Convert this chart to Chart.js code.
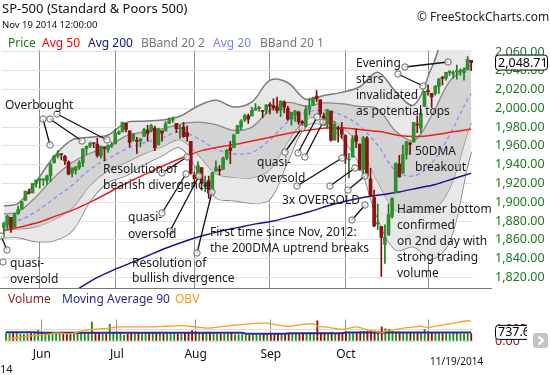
<!DOCTYPE html>
<html>
<head>
<meta charset="utf-8">
<script src="https://cdn.jsdelivr.net/npm/chart.js@4.4.0/dist/chart.umd.min.js"></script>
<style>
  body { margin: 0; background: #fff; font-family: 'Noto Sans', sans-serif; }
  #wrap { position: relative; width: 550px; height: 375px; overflow: hidden; }
  .t { position: absolute; white-space: nowrap; line-height: 1; }
  canvas { position: absolute; left: 0; }
</style>
</head>
<body>
<div id="wrap">
  <canvas id="price" width="550" height="289" style="top:0"></canvas>
  <canvas id="volume" width="550" height="85" style="top:290px"></canvas>

  <div class="t" style="left:2px;top:2px;font-size:13px;color:#111">SP-500 (Standard &amp; Poors 500)</div>
  <div class="t" style="left:2px;top:20px;font-size:9.5px;color:#111">Nov 19 2014 12:00:00</div>
  <div class="t" style="left:417px;top:11px;font-size:12px;color:#222">© FreeStockCharts.com</div>

  <div class="t" style="left:8px;top:37px;font-size:12px;color:#1a7a1a">Price</div>
  <div class="t" style="left:42px;top:37px;font-size:12px;color:#ff0000">Avg 50</div>
  <div class="t" style="left:88px;top:37px;font-size:12px;color:#10108a">Avg 200</div>
  <div class="t" style="left:141px;top:37px;font-size:12px;color:#777">BBand 20 2</div>
  <div class="t" style="left:213px;top:37px;font-size:12px;color:#8080ff">Avg 20</div>
  <div class="t" style="left:260px;top:37px;font-size:12px;color:#777">BBand 20 1</div>

  <div class="t" style="left:8px;top:293px;font-size:12px;color:#8b1a1a">Volume</div>
  <div class="t" style="left:62px;top:293px;font-size:12px;color:#2a2a8c">Moving Average 90</div>
  <div class="t" style="left:175px;top:293px;font-size:12px;color:#ff9a1a">OBV</div>

  <div class="t" style="left:0px;top:363px;font-size:11px;color:#111">14</div>
  <div class="t" style="left:430px;top:356px;font-size:10px;color:#111">11/19/2014</div>
</div>

<script>
// trading days, May 16 - Nov 19 2014
const dates = [
  '5/16','5/19','5/20','5/21','5/22','5/23','5/27','5/28','5/29','5/30',
  '6/2','6/3','6/4','6/5','6/6','6/9','6/10','6/11','6/12','6/13','6/16','6/17','6/18','6/19','6/20','6/23','6/24','6/25','6/26','6/27','6/30',
  '7/1','7/2','7/3','7/7','7/8','7/9','7/10','7/11','7/14','7/15','7/16','7/17','7/18','7/21','7/22','7/23','7/24','7/25','7/28','7/29','7/30','7/31',
  '8/1','8/4','8/5','8/6','8/7','8/8','8/11','8/12','8/13','8/14','8/15','8/18','8/19','8/20','8/21','8/22','8/25','8/26','8/27','8/28','8/29',
  '9/2','9/3','9/4','9/5','9/8','9/9','9/10','9/11','9/12','9/15','9/16','9/17','9/18','9/19','9/22','9/23','9/24','9/25','9/26','9/29','9/30',
  '10/1','10/2','10/3','10/6','10/7','10/8','10/9','10/10','10/13','10/14','10/15','10/16','10/17','10/20','10/21','10/22','10/23','10/24','10/27','10/28','10/29','10/30','10/31',
  '11/3','11/4','11/5','11/6','11/7','11/10','11/11','11/12','11/13','11/14','11/17','11/18','11/19'
];
const monthStarts = ['6/2', '7/1', '8/1', '9/2', '10/1', '11/3'];
const monthNames = ['Jun', 'Jul', 'Aug', 'Sep', 'Oct', ''];

const opens = [
  1873,1876,1884,1874,1888,1893,1902,1911,1910,1920,
  1923,1924,1923,1928,1942,1949,1951,1949,1943,1931,
  1934,1937,1942,1957,1960,1963,1962,1949,1959,1956,
  1960,1962,1973,1975,1984,1976,1966,1966,1965,1970,
  1977,1976,1979,1961,1976,1976,1984,1987.5,1984,1978.3,
  1980,1974,1965,1929,1926,1937,1917,1923,1910,1933,
  1935,1935,1947,1958,1958,1973,1980,1987,1992,1992,
  1998,2000,1998,1998,2004,2003,2001,1998,2007,2000,
  1989,1993,1996,1986,1981,1999,2003,2013,2009,1992,
  1983,1997,1966,1979,1978,1971,1945,1948,1971,1962,
  1935,1968,1925,1905,1877,1874,1855,1865,1885,1910,
  1941,1931,1951,1963,1964,1983,1979,2002,2019,2016,
  2016,2023,2032.4,2032,2038,2037,2039,2039,2038,2041,2051
];
const highs = [
  1878,1886,1884,1888,1896,1901,1912,1914,1920,1924,
  1926,1925,1929,1942,1950,1955,1951,1950,1944,1937,
  1938,1944,1957,1960,1964,1963,1968,1960,1959,1961,
  1964,1978,1976,1985,1984,1976,1973,1969,1968,1979,
  1982,1983,1981,1979,1976,1986,1990,1991,1984,1982,
  1985,1981,1965,1932,1943,1937,1928,1928,1932,1944,
  1939,1948,1956,1965,1972,1982,1988,1994,1994,2001,
  2005,2002,1998,2004,2006,2010,2012,2008,2008,2002,
  1996,1998,1997,1987,2002,2011,2012,2019,2009,1995,
  1999,1997,1986,1981,1985,1972,1952,1971,1978,1962,
  1970,1970,1936,1913,1898,1874,1876,1898,1905,1942,
  1950,1961,1965,1964,1985,1992,1999,2018,2025,2016,
  2024,2032,2034,2038,2040,2040,2046,2042,2043,2055,2051
];
const lows = [
  1863,1872,1868,1873,1887,1893,1902,1909,1910,1916,
  1915,1918,1919,1922,1942,1947,1945,1940,1929,1927,
  1930,1935,1938,1951,1958,1958,1948,1947,1944,1953,
  1958,1962,1972,1975,1975,1959,1965,1952,1959,1970,
  1965,1975,1955,1961,1965,1976,1984,1985,1974,1968,
  1969,1965,1930,1917,1924,1913,1911,1904,1909,1933,
  1929,1935,1945,1941,1958,1973,1977,1986,1984,1992,
  1998,1997,1990,1994,1994,1998,1995,1991,1995,1987,
  1982,1986,1983,1978,1980,1993,2003,2007,1991,1982,
  1979,1965,1966,1964,1968,1941,1926,1948,1958,1934,
  1925,1927,1906,1874,1871,1821,1835,1865,1883,1910,
  1927,1931,1946,1951,1964,1974,1974,2002,2014,2001,
  2014,2016,2025,2030,2035,2032,2031,2035,2030,2041,2040
];
const closes = [
  1877.86,1885.08,1872.83,1888.03,1892.49,1900.53,1911.91,1909.78,1920.03,1923.57,
  1924.97,1924.24,1927.88,1940.46,1949.44,1951.27,1950.79,1943.89,1930.11,1936.16,
  1937.78,1941.99,1956.98,1959.48,1962.87,1962.61,1949.98,1959.53,1957.22,1960.96,
  1960.23,1973.32,1974.62,1985.44,1977.65,1963.71,1972.83,1964.68,1967.57,1977.10,
  1973.28,1981.57,1958.12,1978.22,1973.63,1983.53,1987.01,1987.98,1978.34,1978.91,
  1969.95,1970.07,1930.67,1925.15,1938.99,1920.21,1920.24,1909.57,1931.59,1936.92,
  1933.75,1946.72,1955.18,1955.06,1971.74,1981.60,1986.51,1992.37,1988.40,1997.92,
  2000.02,2000.12,1996.74,2003.37,2002.28,2000.72,1997.65,2007.71,2001.54,1988.44,
  1995.69,1997.45,1985.54,1984.13,1998.98,2001.57,2011.36,2010.40,1994.29,1982.77,
  1998.30,1965.99,1982.85,1977.80,1972.29,1946.16,1946.17,1967.90,1964.82,1935.10,
  1968.89,1928.21,1906.13,1874.74,1877.70,1862.49,1862.76,1886.76,1904.01,1941.28,
  1927.11,1950.82,1964.58,1961.63,1985.05,1982.30,1994.65,2018.05,2017.81,2012.10,
  2023.57,2031.21,2031.92,2038.26,2039.68,2038.25,2039.33,2039.82,2041.32,2051.80,2048.71
];
// volume, millions
const volumes = [
  690,640,650,660,600,580,620,640,680,920,
  640,620,650,680,660,620,640,650,690,620,
  640,650,700,720,1630,640,700,620,600,1420,
  700,690,640,500,600,720,660,700,620,640,
  680,670,720,690,600,640,620,660,620,600,
  680,720,900,760,680,700,690,720,640,600,
  580,620,610,720,560,540,560,530,500,560,
  530,520,520,560,640,640,650,600,620,680,
  640,630,660,690,680,690,700,1740,700,720,
  680,760,650,680,720,770,760,700,720,800,
  820,860,920,880,860,1210,1050,1000,800,760,
  760,740,680,700,740,760,740,1000,680,700,
  720,700,640,640,620,660,700,620,600,640,640
];

// indicator lines (index into dates, value)
const ma50Idx = [0,5,10,15,20,25,30,35,40,45,50,55,60,65,70,75,80,85,90,95,100,105,110,115,120,125,130];
const ma50Val = [1870,1874,1879,1886,1893,1902,1912,1922,1931,1940,1948,1955,1959,1962,1966,1970,1974,1977,1979,1979,1977,1975,1971,1970,1972,1975,1978];
const ma200Idx = [20,25,30,35,40,45,50,55,60,65,70,75,80,85,90,95,100,105,110,115,120,125,130];
const ma200Val = [1806,1818,1827,1835,1843,1851,1858,1864,1869,1873,1877,1880,1885,1890,1896,1901,1905,1908,1911,1915,1919,1925,1931];

const bandIdx = [0,4,9,14,19,24,29,34,39,44,49,54,59,64,69,74,79,84,89,94,99,104,109,114,119,124,129,130];
const avg20 = [1879.1,1880.7,1890.1,1904.1,1918.1,1935.2,1946.4,1956.6,1963.3,1968.6,1974.9,1968.1,1956.7,1951.6,1953.1,1966.5,1985.4,1995.4,1998.0,1992.8,1981.0,1960.7,1933.5,1928.1,1941.4,1971.8,2009.5,2015.5];
const bbUpper2 = [1896.1,1898.9,1921.9,1948.9,1966.5,1969.2,1971.6,1984.8,1986.3,1987.6,1991.5,2002.5,2008.5,2001.4,2006.9,2029.7,2027.2,2009.6,2013.6,2017.0,2023.0,2038.5,2017.7,2003.5,2043.2,2085.6,2079.7,2077.3];
const bbUpper1 = [1887.6,1889.8,1906.0,1926.5,1942.3,1952.2,1959.0,1970.7,1974.8,1978.1,1983.2,1985.3,1982.6,1976.5,1980.0,1998.1,2006.3,2002.5,2005.8,2004.9,2002.0,1999.6,1975.6,1965.8,1992.3,2028.7,2044.6,2046.4];
const bbLower1 = [1870.6,1871.6,1874.2,1881.7,1893.9,1918.2,1933.8,1942.5,1951.8,1959.1,1966.6,1950.9,1930.8,1926.7,1926.2,1934.9,1964.5,1988.3,1990.2,1980.7,1960.0,1921.8,1891.4,1890.4,1890.5,1914.9,1974.4,1984.6];
const bbLower2 = [1862.1,1862.5,1858.3,1859.3,1869.7,1901.2,1921.2,1928.4,1940.3,1949.6,1958.3,1933.7,1904.9,1901.8,1899.3,1903.3,1943.6,1981.2,1982.4,1968.6,1939.0,1882.9,1849.3,1852.7,1839.6,1858.0,1939.3,1953.7];

const ma90Idx = [0,8,9,66,67,78,79,94,95,130];
const ma90Val = [752,752,700,700,620,620,665,665,737.6,737.6];
const obvIdx = [0,4,8,11,14,18,21,24,27,29,31,34,38,41,45,49,53,56,60,64,68,71,73,75,79,83,86,87,89,94,98,101,105,107,111,114,116,118,122,125,129,130];
const obvVal = [3,6,9,10,13,12,16,19,20,21,23,23,23,23,24,25,23,21,23,26,28,29,29,27,24,27,28,24,23,19,23,18,14,17,21,23,24,22,26,29,33,32];

const priceTickStep = 20;
const volTicks = [0, 1000];
const volTickLabels = ['0.00', '1.00B'];

const pts = (idx, vals) => idx.map((k, j) => ({ x: dates[k], y: vals[j] }));
const up = closes.map((c, i) => c >= opens[i]);
const GREEN = '#2f8f2f', RED = '#8b1212';
const FONT = "'Noto Sans', sans-serif";
const PANEL_BOTTOM = 288;

const monthGrid = ctx => {
  const i = ctx.tick ? ctx.tick.value : ctx.index;
  return monthStarts.includes(dates[i]) ? '#8c8c8c' : 'rgba(0,0,0,0)';
};

// notes drawn over the price panel
const noteLines = [
  [43,119,50,145], [50,119,82,141], [57,114,107,140],
  [162,173,187,157],
  [162,213,186,174], [170,231,199,176],
  [197,253,212,192],
  [7,250,1,236],
  [285,152,302,128], [298,153,317,117], [305,157,323,122],
  [297,186,342,158], [330,186,355,168], [348,190,365,176], [352,220,365,205],
  [405,67,448,62], [398,74,423,86]
];
const noteDots = [[3,262]];
const noteTexts = [
  ['Overbought', 5, 104],
  ['Resolution of', 103, 168], ['bearish divergence', 103, 184],
  ['quasi-', 128, 216], ['oversold', 128, 233],
  ['quasi-', 10, 262], ['oversold', 10, 278],
  ['Resolution of', 132, 262], ['bullish divergence', 132, 277],
  ['First time since Nov, 2012:', 210, 231], ['the 200DMA uptrend breaks', 210, 247],
  ['quasi-', 257, 161], ['oversold', 257, 177],
  ['3x OVERSOLD', 282, 199],
  ['Evening', 356, 62], ['stars', 356, 78], ['invalidated', 356, 94], ['as potential tops', 356, 110],
  ['50DMA', 415, 150], ['breakout', 415, 166],
  ['Hammer bottom', 397, 208], ['confirmed', 397, 224], ['on 2nd day with', 397, 240],
  ['strong trading', 397, 256], ['volume', 397, 272]
];

function dot(c, x, y) {
  c.beginPath();
  c.arc(x, y, 3.2, 0, Math.PI * 2);
  c.fillStyle = 'rgba(255,255,255,0.7)';
  c.fill();
  c.lineWidth = 1;
  c.strokeStyle = '#666';
  c.stroke();
}

const priceExtras = {
  id: 'priceExtras',
  afterDraw(chart) {
    const c = chart.ctx;
    c.save();
    c.strokeStyle = '#777';
    c.lineWidth = 1;
    c.beginPath(); c.moveTo(0, PANEL_BOTTOM + 0.5); c.lineTo(492, PANEL_BOTTOM + 0.5); c.stroke();

    c.strokeStyle = '#111';
    c.lineWidth = 1.3;
    noteLines.forEach(([x1, y1, x2, y2]) => {
      c.beginPath(); c.moveTo(x1, y1); c.lineTo(x2, y2); c.stroke();
    });
    noteLines.forEach(([x1, y1, x2, y2]) => { dot(c, x1, y1); dot(c, x2, y2); });
    noteDots.forEach(([x, y]) => dot(c, x, y));
    c.fillStyle = '#1a1a1a';
    c.font = '12px ' + FONT;
    c.textBaseline = 'alphabetic';
    c.textAlign = 'left';
    noteTexts.forEach(([t, x, y]) => c.fillText(t, x, y + 4.5));

    const last = closes[closes.length - 1];
    const y = chart.scales.y.getPixelForValue(last);
    c.beginPath();
    c.roundRect(495.5, y - 7.5, 52, 15, 3);
    c.fillStyle = '#fff'; c.fill();
    c.strokeStyle = '#000'; c.lineWidth = 1; c.stroke();
    c.fillStyle = '#000';
    c.font = '12.5px ' + FONT;
    c.textBaseline = 'middle';
    c.fillText(last.toLocaleString('en-US', { minimumFractionDigits: 2 }), 498, y + 0.5);
    c.restore();
  }
};

const volumeExtras = {
  id: 'volumeExtras',
  afterDraw(chart) {
    const c = chart.ctx;
    const v = ma90Val[ma90Val.length - 1];
    const y = chart.scales.yv.getPixelForValue(v);
    c.save();
    c.beginPath(); c.rect(480, 0, 47, 85); c.clip();
    c.beginPath();
    c.roundRect(495.5, y - 7, 50, 14, 3);
    c.fillStyle = '#fff'; c.fill();
    c.strokeStyle = '#000'; c.lineWidth = 1; c.stroke();
    c.fillStyle = '#000';
    c.font = '12.5px ' + FONT;
    c.textBaseline = 'middle';
    c.fillText(v.toFixed(2) + 'M', 498, y + 0.5);
    c.restore();
    c.save();
    c.beginPath();
    c.roundRect(533, 43, 15, 15, 3);
    c.fillStyle = '#c4c4c4'; c.fill();
    c.strokeStyle = '#fff'; c.lineWidth = 2.2;
    c.beginPath(); c.moveTo(538.5, 46.5); c.lineTo(543, 50.5); c.lineTo(538.5, 54.5); c.stroke();
    c.restore();
  }
};

const lineBase = { type: 'line', pointRadius: 0, fill: false };

function priceConfig() {
  return {
    type: 'bar',
    data: {
      labels: dates,
      datasets: [
        { label: 'body', data: opens.map((o, i) => [o, closes[i]]), backgroundColor: up.map(u => u ? GREEN : RED),
          barThickness: 3, grouped: false, minBarLength: 1, order: 0 },
        { label: 'wick', data: lows.map((l, i) => [l, highs[i]]), backgroundColor: up.map(u => u ? '#1f7a1f' : '#7a0f0f'),
          barThickness: 1, grouped: false, order: 1 },
        { ...lineBase, label: 'Avg 50', data: pts(ma50Idx, ma50Val), borderColor: '#e8231f', borderWidth: 1.5, tension: 0.3, order: 2 },
        { ...lineBase, label: 'Avg 200', data: pts(ma200Idx, ma200Val), borderColor: '#151590', borderWidth: 1.5, tension: 0.3, order: 2 },
        { ...lineBase, label: 'Avg 20', data: pts(bandIdx, avg20), borderColor: '#8a8cf5', borderDash: [4, 3], borderWidth: 1.3, tension: 0.35, order: 3 },
        { ...lineBase, label: 'BBand 20 1 up', data: pts(bandIdx, bbUpper1), borderColor: '#8a8a8a', borderWidth: 1.3, tension: 0.35,
          fill: '+1', backgroundColor: '#d3d3d3', order: 5 },
        { ...lineBase, label: 'BBand 20 1 low', data: pts(bandIdx, bbLower1), borderColor: '#8a8a8a', borderWidth: 1.3, tension: 0.35, order: 5 },
        { ...lineBase, label: 'BBand 20 2 up', data: pts(bandIdx, bbUpper2), borderColor: '#7a7a7a', borderWidth: 1.5, tension: 0.35,
          fill: '+1', backgroundColor: '#e8e8e8', order: 6 },
        { ...lineBase, label: 'BBand 20 2 low', data: pts(bandIdx, bbLower2), borderColor: '#7a7a7a', borderWidth: 1.5, tension: 0.35, order: 6 }
      ]
    },
    options: {
      responsive: false,
      maintainAspectRatio: false,
      animation: false,
      layout: { padding: { top: 50, left: 2, right: 0, bottom: 1 } },
      plugins: { legend: { display: false }, tooltip: { enabled: false } },
      scales: {
        x: {
          offset: true,
          grid: { offset: false, drawTicks: false, color: monthGrid },
          ticks: { display: false, autoSkip: false },
          border: { display: false },
          afterFit: s => { s.height = 0; }
        },
        y: {
          position: 'right',
          min: 1808.2,
          max: 2062.1,
          ticks: {
            stepSize: priceTickStep, includeBounds: false, padding: 22, color: '#1e7a1e',
            font: { family: FONT, size: 12.5 },
            callback: v => v.toLocaleString('en-US', { minimumFractionDigits: 2, maximumFractionDigits: 2 })
          },
          grid: { color: '#e2e2e2', drawTicks: false },
          border: { display: false },
          afterFit: s => { s.width = 77; }
        }
      }
    },
    plugins: [priceExtras]
  };
}

// the layout leaves a margin under the plot; grow the canvas until the plot bottom sits on the panel border
const priceCanvas = document.getElementById('price');
let priceChart = new Chart(priceCanvas, priceConfig());
for (let k = 0; k < 3; k++) {
  const gap = PANEL_BOTTOM - priceChart.chartArea.bottom;
  if (Math.abs(gap) < 0.3) break;
  priceChart.destroy();
  priceCanvas.height = Math.round(priceCanvas.height + gap);
  priceCanvas.style.height = priceCanvas.height + 'px';
  priceCanvas.style.width = '550px';
  priceChart = new Chart(priceCanvas, priceConfig());
}

new Chart(document.getElementById('volume'), {
  type: 'bar',
  data: {
    labels: dates,
    datasets: [
      { ...lineBase, label: 'OBV', data: pts(obvIdx, obvVal), yAxisID: 'yo', borderColor: '#ff9a1f', borderWidth: 1.3, tension: 0.2, order: 0 },
      { ...lineBase, label: 'Moving Average 90', data: pts(ma90Idx, ma90Val), yAxisID: 'yv', borderColor: '#2b2b8f', borderWidth: 2, order: 1 },
      { label: 'Volume', data: volumes, yAxisID: 'yv', backgroundColor: up.map(u => u ? '#1f8a1f' : '#8b1010'),
        barThickness: 1.2, order: 2 }
    ]
  },
  options: {
    responsive: false,
    animation: false,
    layout: { padding: { top: 16, left: 2, right: 0, bottom: 0 } },
    plugins: { legend: { display: false }, tooltip: { enabled: false } },
    scales: {
      x: {
        offset: true,
        grid: { offset: false, drawTicks: false, color: monthGrid },
        border: { display: false },
        ticks: {
          autoSkip: false, maxRotation: 0, minRotation: 0, padding: 6, color: '#111',
          font: { family: FONT, size: 12 },
          callback: v => monthNames[monthStarts.indexOf(dates[v])] || ''
        },
        afterFit: s => { s.height = 34; }
      },
      yv: {
        position: 'right',
        min: 0,
        max: 1844,
        afterBuildTicks: s => { s.ticks = volTicks.map(v => ({ value: v })); },
        ticks: {
          padding: 22, color: '#a01515', font: { family: FONT, size: 12.5 },
          callback: v => volTickLabels[volTicks.indexOf(v)]
        },
        grid: { color: '#dcdcdc', drawTicks: false },
        border: { display: false },
        afterFit: s => { s.width = 77; }
      },
      yo: { display: false, min: 0, max: 35 }
    }
  },
  plugins: [volumeExtras]
});
</script>
</body>
</html>
